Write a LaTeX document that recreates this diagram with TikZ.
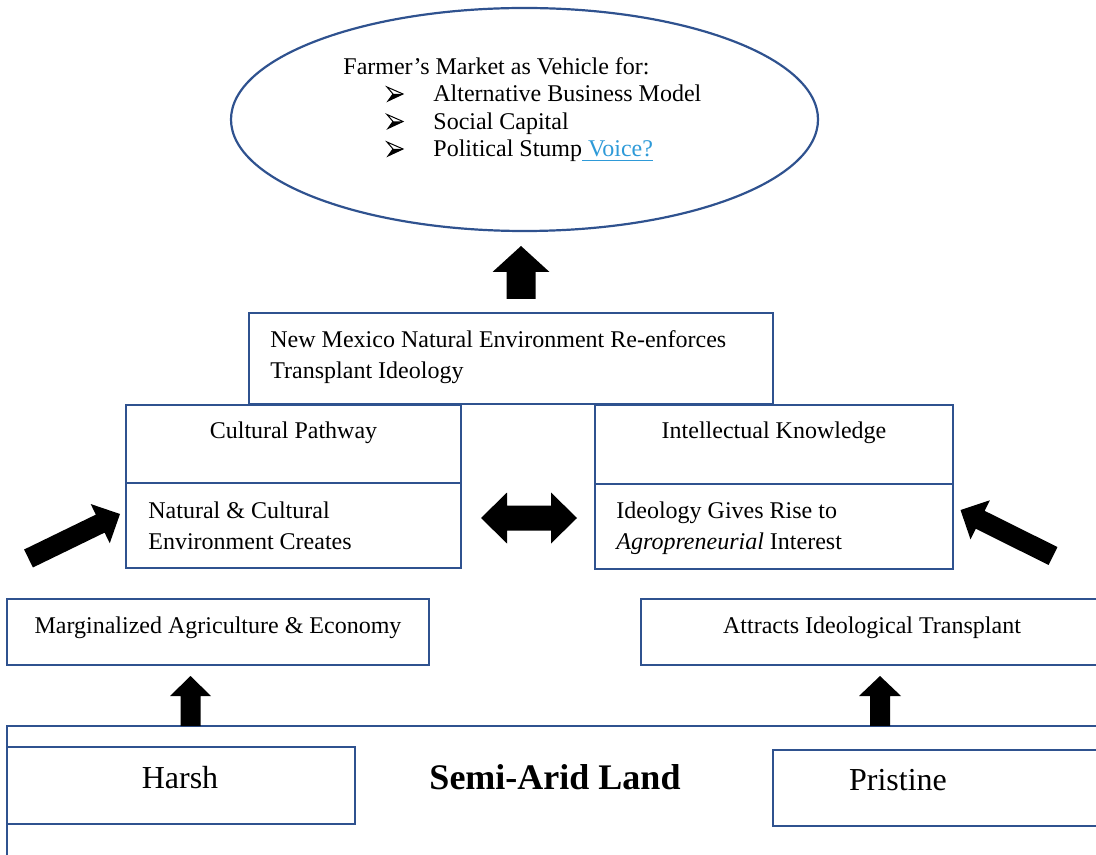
\documentclass[tikz,border=0pt]{standalone}
\usepackage{fontspec}
\setmainfont{Liberation Serif}
\usetikzlibrary{shapes.geometric,calc}
\definecolor{boxblue}{RGB}{47,82,143}
\definecolor{linkblue}{RGB}{46,154,216}
% block arrow: #1 tail, #2 tip, #3 shaft half width, #4 head half width, #5 head length
\newcommand{\blkarrow}[5]{%
  \coordinate (hb) at ($(#2)!#5!(#1)$);
  \fill[black] ($(#1)!#3!90:(#2)$) -- ($(hb)!#3!-90:(#1)$) -- ($(hb)!#4!-90:(#1)$) -- (#2)
    -- ($(hb)!#4!90:(#1)$) -- ($(hb)!#3!90:(#1)$) -- ($(#1)!#3!-90:(#2)$) -- cycle;}
\begin{document}
\begin{tikzpicture}[x=0.5pt,y=-0.5pt,
  box/.style={draw=boxblue,line width=1.2pt,inner sep=0pt,outer sep=0pt,anchor=north west},
  txt/.style={inner sep=0pt,font=\fontsize{12pt}{15pt}\selectfont},
  bigtxt/.style={inner sep=0pt,font=\fontsize{16pt}{19pt}\selectfont},
  titletxt/.style={inner sep=0pt,font=\fontsize{18pt}{21pt}\selectfont\bfseries},
  bullet/.pic={
    \draw[black,line width=0.5pt,line join=miter] (-8,-7) -- (8,0) -- (-7,7) -- (-2,0) -- cycle;
    \fill[black] (-2,0) -- (8,0) -- (-7,7) -- cycle;}]
\useasboundingbox (0,0) rectangle (1096,855);
\clip (0,0) rectangle (1096,855);

% ellipse
\node[ellipse, draw=boxblue, line width=1.1pt, minimum width=293.5pt, minimum height=111.5pt, inner sep=0pt] (vehicle) at (524.5,119.5) {};
\node[txt,anchor=base west] (vt) at (343,74.5) {Farmer’s Market as Vehicle for:};
\pic at (395,94) {bullet};
\pic at (395,121.5) {bullet};
\pic at (395,149) {bullet};
\node[txt,anchor=base west] (i1) at (433,102) {Alternative Business Model};
\node[txt,anchor=base west] (i2) at (433,129.5) {Social Capital};
\node[txt,anchor=base west] (i3) at (433,157) {Political Stump{\color{linkblue}\underline{\ Voice?}}};

% boxes
\node[box,minimum width=262pt,minimum height=45.5pt] (nm) at (249,313) {};
\node[box,minimum width=167.5pt,minimum height=39pt] (cp) at (126,405) {};
\node[box,minimum width=167.5pt,minimum height=42.5pt] (cpb) at (126,483) {};
\node[box,minimum width=179pt,minimum height=39.5pt] (ik) at (595,405) {};
\node[box,minimum width=179pt,minimum height=42.5pt] (ikb) at (595,484) {};
\node[box,minimum width=211pt,minimum height=33pt] (mag) at (7,599) {};
\node[box,minimum width=232pt,minimum height=33pt] (att) at (641,599) {};
\node[box,minimum width=560pt,minimum height=100pt] (land) at (7,726) {};
\node[box,minimum width=174pt,minimum height=38.5pt] (harsh) at (7,747) {};
\node[box,minimum width=170pt,minimum height=38pt] (pris) at (773,750) {};

% texts
\node[txt,anchor=base west] (nm1) at (270,348) {New Mexico Natural Environment Re-enforces};
\node[txt,anchor=base west] (nm2) at (270,379) {Transplant Ideology};
\node[txt,anchor=base] (cpt) at (293.5,438.5) {Cultural Pathway};
\node[txt,anchor=base west] (cp1) at (148,518) {Natural \& Cultural};
\node[txt,anchor=base west] (cp2) at (148,549) {Environment Creates};
\node[txt,anchor=base] (ikt) at (774,438.5) {Intellectual Knowledge};
\node[txt,anchor=base west] (ik1) at (616,518) {Ideology Gives Rise to};
\node[txt,anchor=base west] (ik2) at (616,549) {\textit{Agropreneurial} Interest};
\node[txt,anchor=base] (magt) at (218,633) {Marginalized Agriculture \& Economy};
\node[txt,anchor=base] (attt) at (872,633) {Attracts Ideological Transplant};
\node[bigtxt,anchor=base] (harsht) at (180,788) {Harsh};
\node[titletxt,anchor=base] (landt) at (555,789.5) {Semi-Arid Land};
\node[bigtxt,anchor=base] (prist) at (898,790) {Pristine};

% block arrows
\coordinate (a1s) at (521,299); \coordinate (a1e) at (521,246);
\blkarrow{a1s}{a1e}{7.25pt}{14.25pt}{13pt}
\coordinate (a2s) at (190.5,726); \coordinate (a2e) at (190.5,676);
\blkarrow{a2s}{a2e}{5pt}{10.25pt}{10pt}
\coordinate (a3s) at (880,726); \coordinate (a3e) at (880,676);
\blkarrow{a3s}{a3e}{5pt}{10.5pt}{10pt}
\coordinate (a4s) at (28.5,558.5); \coordinate (a4e) at (120,514);
\blkarrow{a4s}{a4e}{5pt}{10.9pt}{11pt}
\coordinate (a5s) at (1053,556); \coordinate (a5e) at (960.5,510);
\blkarrow{a5s}{a5e}{5pt}{10.9pt}{11pt}
% double arrow
\coordinate (dl) at (481,518); \coordinate (dr) at (577,518);
\fill[black] (dl) -- ($(dl)+(26,-25.5)$) -- ($(dl)+(26,-12.5)$) -- ($(dr)+(-26,-12.5)$) -- ($(dr)+(-26,-25.5)$)
  -- (dr) -- ($(dr)+(-26,25.5)$) -- ($(dr)+(-26,12.5)$) -- ($(dl)+(26,12.5)$) -- ($(dl)+(26,25.5)$) -- cycle;
\end{tikzpicture}
\end{document}
